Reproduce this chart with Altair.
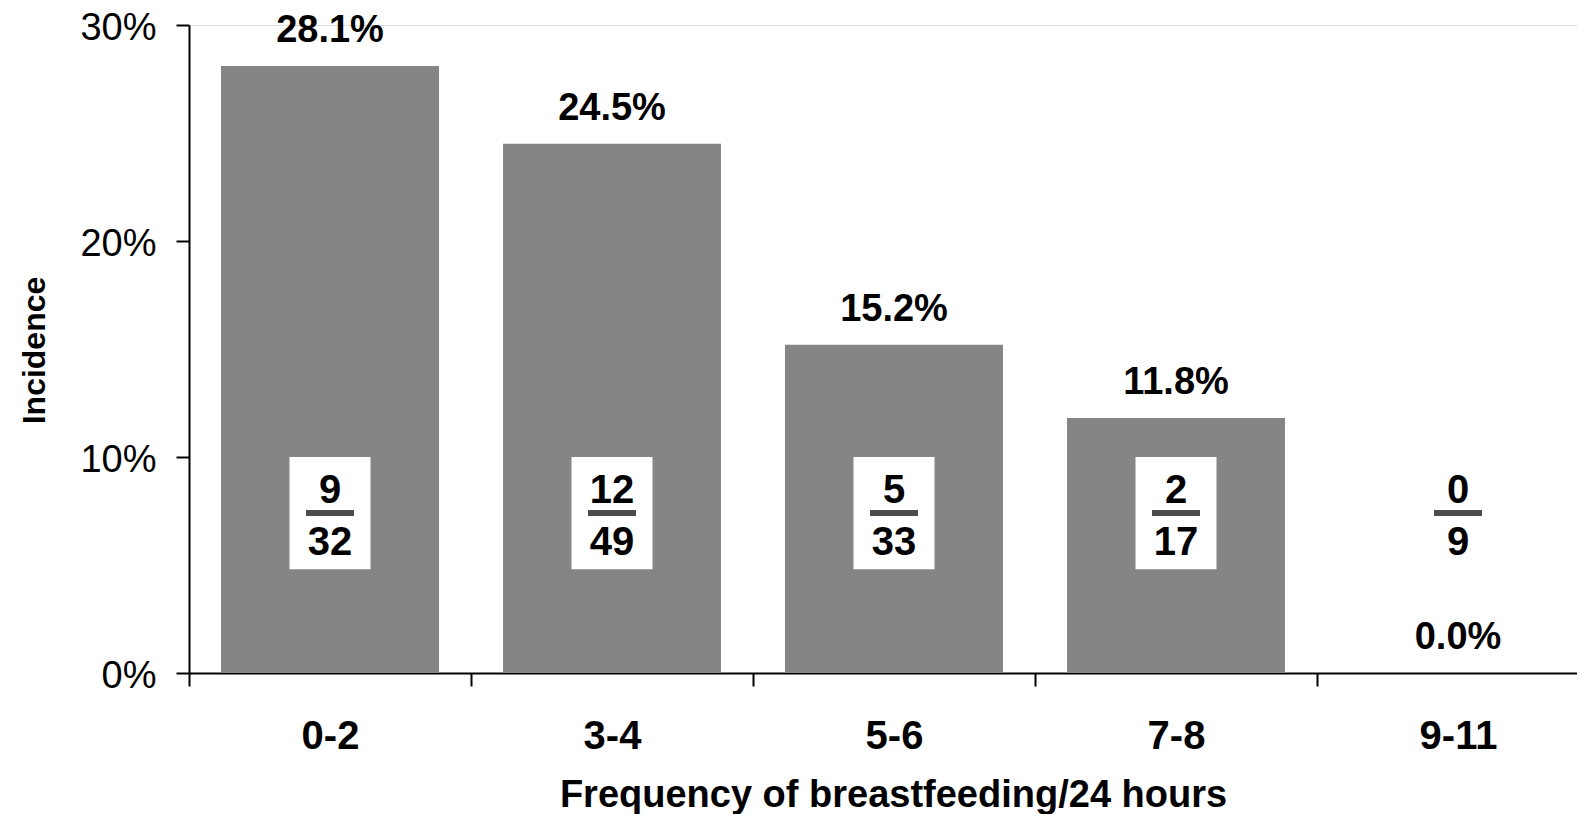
import altair as alt
import pandas as pd

categories = ["0-2", "3-4", "5-6", "7-8", "9-11"]
cases = [9, 12, 5, 2, 0]
totals = [32, 49, 33, 17, 9]
incidence = [0.281, 0.245, 0.152, 0.118, 0.0]
y_ticks = [0, 0.1, 0.2, 0.3]

df = pd.DataFrame({
    "cat": categories,
    "cases": cases,
    "total": totals,
    "inc": incidence,
})

FONT = "Liberation Sans"
BOX_TOP = 0.10
BOX_BOTTOM = 0.048

x_enc = alt.X(
    "cat:N",
    sort=categories,
    scale=alt.Scale(range=[0, 1410], paddingInner=0, paddingOuter=0),
    axis=alt.Axis(
        title="Frequency of breastfeeding/24 hours",
        titleFont=FONT, titleFontSize=38, titleFontWeight="bold", titleColor="black",
        titleX=704, titleY=133, titleAlign="center", titleBaseline="alphabetic",
        labelFont=FONT, labelFontSize=40, labelFontWeight="bold", labelColor="black",
        labelAngle=0, labelPadding=30,
        tickBand="extent", tickSize=13, tickWidth=2, tickColor="black",
        domainColor="black", domainWidth=2,
    ),
)

y_scale = alt.Scale(domain=[0, 0.3], nice=False, zero=True)
y_enc = alt.Y(
    "inc:Q",
    scale=y_scale,
    axis=alt.Axis(
        title="Incidence", values=y_ticks, format=".0%",
        titleFont=FONT, titleFontSize=32, titleFontWeight="bold", titleColor="black",
        titleAngle=270, titleX=-155, titleY=325, titleAlign="center", titleBaseline="middle",
        labelFont=FONT, labelFontSize=38, labelColor="black", labelPadding=20, labelOffset=3,
        tickSize=13, tickWidth=2, tickColor="black",
        domainColor="black", domainWidth=2, grid=False,
    ),
)

base = alt.Chart(df)

bars = base.mark_bar(color="#858585", width=alt.RelativeBandSize(0.773)).encode(x=x_enc, y=y_enc)

values = base.mark_text(
    font=FONT, fontSize=38, fontWeight="bold", color="black",
    baseline="alphabetic", dy=-24,
).encode(x=alt.X("cat:N", sort=categories), y=alt.Y("inc:Q"), text=alt.Text("inc:Q", format=".1%"))

boxes = base.transform_filter(alt.datum.inc > 0).mark_bar(color="white", width=81).encode(
    x=alt.X("cat:N", sort=categories),
    y=alt.datum(BOX_TOP),
    y2=alt.datum(BOX_BOTTOM),
)

numer = base.mark_text(
    font=FONT, fontSize=40, fontWeight="bold", color="black",
    baseline="alphabetic", dy=46,
).encode(x=alt.X("cat:N", sort=categories), y=alt.datum(BOX_TOP), text="cases:N")

line = base.mark_tick(color="black", thickness=6, size=48, orient="horizontal", yOffset=56).encode(
    x=alt.X("cat:N", sort=categories), y=alt.datum(BOX_TOP)
)

denom = base.mark_text(
    font=FONT, fontSize=40, fontWeight="bold", color="black",
    baseline="alphabetic", dy=98,
).encode(x=alt.X("cat:N", sort=categories), y=alt.datum(BOX_TOP), text="total:N")

chart = alt.layer(bars, values, boxes, numer, line, denom).properties(
    width=1388,
    height=648,
    autosize=alt.AutoSizeParams(type="none"),
    padding={"left": 181, "top": 17, "right": 0, "bottom": 141},
).configure_view(stroke=None).configure(background="white")

chart.save("out.html", embed_options={"renderer": "svg", "actions": False})
